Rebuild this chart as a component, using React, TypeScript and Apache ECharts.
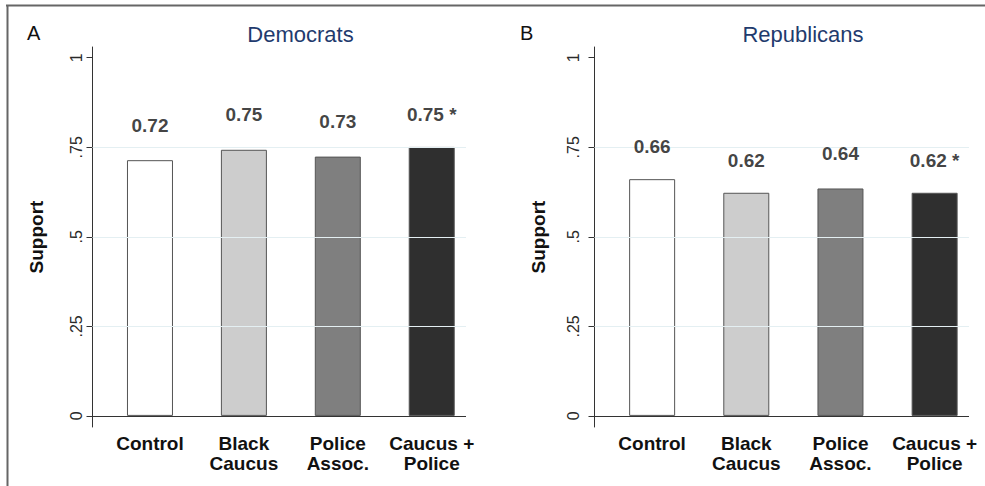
import React, { useEffect, useRef } from "react";
import * as echarts from "echarts";

const categories = ["Control", "Black\nCaucus", "Police\nAssoc.", "Caucus +\nPolice"];
const demValues = [0.714, 0.743, 0.724, 0.751];
const repValues = [0.661, 0.623, 0.635, 0.623];
const demLabels = [0.72, 0.75, 0.73, 0.75];
const repLabels = [0.66, 0.62, 0.64, 0.62];
const labelMarks = ["", "", "", " *"];
const yTicks = [0, 0.25, 0.5, 0.75, 1];
const yTickLabels = ["0", ".25", ".5", ".75", "1"];
const gridValues = [0.25, 0.5, 0.75];
const baselineValue = 0;
const panelTitles = ["Democrats", "Republicans"];
const panelLetters = ["A", "B"];

const barColors = ["#ffffff", "#cdcdcd", "#7f7f7f", "#2f2f2f"];
const FONT = "'Liberation Sans', Arial, Helvetica, sans-serif";
const LABEL_OFFSET = 0.092;

function buildPanel(idx: number, values: number[], labels: number[]) {
  const grid = {
    type: "line",
    xAxisIndex: idx,
    yAxisIndex: idx,
    data: [],
    z: 1,
    silent: true,
    markLine: {
      silent: true,
      symbol: ["none", "none"],
      label: { show: false },
      lineStyle: { color: "#e4eff2", width: 1, type: "solid" },
      data: gridValues.map((g) => ({ yAxis: g })),
    },
  };
  const bar = {
    type: "bar",
    xAxisIndex: idx,
    yAxisIndex: idx,
    barWidth: 46,
    z: 3,
    data: values.map((v, i) => ({
      value: [i + 1, v],
      itemStyle: { color: barColors[i], borderColor: "#555555", borderWidth: 1 },
    })),
  };
  const base = {
    type: "line",
    xAxisIndex: idx,
    yAxisIndex: idx,
    data: [],
    z: 5,
    silent: true,
    markLine: {
      silent: true,
      symbol: ["none", "none"],
      label: { show: false },
      lineStyle: { color: "#333333", width: 1, type: "solid" },
      data: [{ yAxis: baselineValue }],
    },
  };
  const lab = {
    type: "scatter",
    xAxisIndex: idx,
    yAxisIndex: idx,
    symbolSize: 0,
    z: 6,
    silent: true,
    data: labels.map((l, i) => ({
      value: [i + 1, l + LABEL_OFFSET],
      label: {
        show: true,
        position: "inside",
        formatter: l.toFixed(2) + labelMarks[i],
        fontFamily: FONT,
        fontWeight: "bold",
        fontSize: 19,
        color: "#111111",
      },
    })),
  };
  return [grid, bar, base, lab];
}

function xAxis(idx: number) {
  return {
    gridIndex: idx,
    type: "value",
    min: 0.388,
    max: 4.365,
    axisLine: { show: false },
    axisTick: { show: false },
    splitLine: { show: false },
    axisLabel: {
      customValues: [1, 2, 3, 4],
      formatter: (v: number) => categories[Math.round(v) - 1],
      fontFamily: FONT,
      fontWeight: "bold",
      fontSize: 19,
      lineHeight: 20,
      color: "#111111",
      margin: 6,
    },
  };
}

function yAxis(idx: number, labelMargin: number) {
  return {
    gridIndex: idx,
    type: "value",
    min: -0.031,
    max: 1.03,
    axisLine: { show: true, onZero: false, lineStyle: { color: "#333333", width: 1 } },
    axisTick: { show: true, length: 6, customValues: yTicks, lineStyle: { color: "#333333" } },
    splitLine: { show: false },
    axisLabel: {
      customValues: yTicks,
      rotate: 90,
      margin: labelMargin,
      fontFamily: FONT,
      fontSize: 16,
      color: "#2a2a2a",
      formatter: (v: number) => {
        const k = yTicks.findIndex((t) => Math.abs(t - v) < 1e-6);
        return k >= 0 ? yTickLabels[k] : "";
      },
    },
    name: "Support",
    nameLocation: "middle",
    nameGap: 47,
    nameTextStyle: { fontFamily: FONT, fontWeight: "bold", fontSize: 19, color: "#111111" },
  };
}

export default function App() {
  const ref = useRef<HTMLDivElement>(null);
  useEffect(() => {
    if (!ref.current) return;
    const chart = echarts.init(ref.current, undefined, { renderer: "svg" });
    const titleX = [300.5, 803];
    const letterX = [27, 520];
    chart.setOption({
      animation: false,
      backgroundColor: "#ffffff",
      grid: [
        { left: 92.5, top: 47, width: 373.5, height: 380 },
        { left: 594.5, top: 47, width: 374.5, height: 380 },
      ],
      xAxis: [xAxis(0), xAxis(1)],
      yAxis: [yAxis(0, 8), yAxis(1, 13)],
      series: [
        ...buildPanel(0, demValues, demLabels),
        ...buildPanel(1, repValues, repLabels),
      ],
      graphic: [
        { type: "line", shape: { x1: 6, y1: 5.5, x2: 985, y2: 5.5 }, style: { stroke: "#666666", lineWidth: 2 } },
        { type: "line", shape: { x1: 7.5, y1: 5, x2: 7.5, y2: 486 }, style: { stroke: "#666666", lineWidth: 2 } },
        ...panelTitles.map((t, i) => ({
          type: "text",
          x: titleX[i],
          y: 34,
          style: {
            text: t,
            fontFamily: FONT,
            fontSize: 22,
            fill: "#1f3b6e",
            textAlign: "center",
            textVerticalAlign: "middle",
          },
        })),
        ...panelLetters.map((t, i) => ({
          type: "text",
          x: letterX[i],
          y: 33,
          style: {
            text: t,
            fontFamily: FONT,
            fontSize: 20,
            fill: "#111111",
            textAlign: "left",
            textVerticalAlign: "middle",
          },
        })),
      ],
    });
    return () => chart.dispose();
  }, []);
  return (
    <div
      ref={ref}
      style={{ position: "fixed", left: 0, top: 0, width: 985, height: 486 }}
    />
  );
}
